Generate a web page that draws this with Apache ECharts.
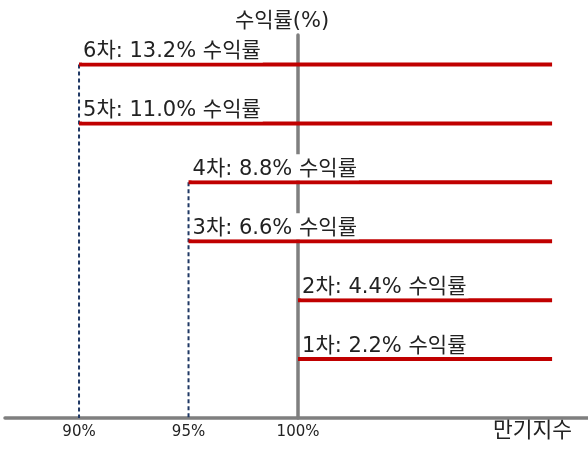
<!DOCTYPE html>
<html>
<head>
<meta charset="utf-8">
<script src="https://cdn.jsdelivr.net/npm/echarts@6/dist/echarts.min.js"></script>
<style>
  html, body { margin: 0; padding: 0; background: #fff; }
  #chart { width: 588px; height: 449px; }
</style>
</head>
<body>
<div id="chart"></div>
<script>
// 단계별 수익률
const steps = ['1차', '2차', '3차', '4차', '5차', '6차']
const yields = [2.2, 4.4, 6.6, 8.8, 11.0, 13.2]
const strikes = [100, 100, 95, 95, 90, 90]   // 수익 시작 만기지수(%)
const lineEnd = 111.6
// 점선 (낙인 기준)
const dashX = [90, 95]
const dashTop = [13.2, 8.8]
const xTicks = [90, 95, 100]

const xMin = 86.62
const xMax = 113.24
const gridLeft = 5
const gridRight = 0
const W = 588

const font = 'DejaVu Sans, Noto Sans CJK KR'
const chart = echarts.init(document.getElementById('chart'))

const redSeries = steps.map((s, i) => ({
  name: s,
  type: 'line',
  symbol: 'circle',
  symbolSize: 0,
  z: 3,
  lineStyle: { width: 4, color: '#C00000' },
  itemStyle: { color: '#C00000' },
  data: [
    {
      value: [strikes[i], yields[i]],
      label: {
        show: true,
        position: 'top',
        align: 'left',
        distance: 2,
        offset: [3, 0],
        formatter: `${s}: ${yields[i].toFixed(1)}% 수익률`,
        fontFamily: font,
        fontSize: 21,
        color: '#222',
        backgroundColor: '#fff',
        padding: [5, 2, 0, 1],
      },
    },
    [lineEnd, yields[i]],
  ],
}))

const dashSeries = dashX.map((x, i) => ({
  type: 'line',
  symbol: 'none',
  z: 2,
  lineStyle: { width: 2, color: '#1F3864', type: [4, 3] },
  data: [[x, dashTop[i]], [x, 0]],
}))

chart.setOption({
  animation: false,
  backgroundColor: '#fff',
  grid: {
    left: gridLeft,
    right: gridRight,
    top: 35,
    bottom: 31,
  },
  xAxis: {
    type: 'value',
    min: xMin,
    max: xMax,
    name: '만기지수',
    nameLocation: 'end',
    nameGap: -16,
    nameTextStyle: {
      fontFamily: font,
      fontSize: 21.5,
      color: '#222',
      align: 'right',
      verticalAlign: 'top',
      padding: [3, 0, 0, 0],
    },
    axisLine: { show: true, onZero: false, lineStyle: { color: '#7F7F7F', width: 3.5 } },
    axisTick: { show: false },
    splitLine: { show: false },
    axisLabel: {
      customValues: xTicks,
      formatter: '{value}%',
      fontFamily: font,
      fontSize: 15,
      color: '#222',
      margin: 7,
    },
  },
  yAxis: {
    type: 'value',
    min: 0,
    max: 14.3,
    position: 'left',
    offset: -((100 - xMin) / (xMax - xMin)) * (W - gridLeft - gridRight),
    name: '수익률(%)',
    nameLocation: 'end',
    nameGap: 3,
    nameTextStyle: {
      fontFamily: font,
      fontSize: 21,
      color: '#222',
      padding: [0, 32, 0, 0],
    },
    axisLine: { show: true, lineStyle: { color: '#7F7F7F', width: 3.5 } },
    axisTick: { show: false },
    axisLabel: { show: false },
    splitLine: { show: false },
  },
  series: [...dashSeries, ...redSeries],
})
</script>
</body>
</html>
